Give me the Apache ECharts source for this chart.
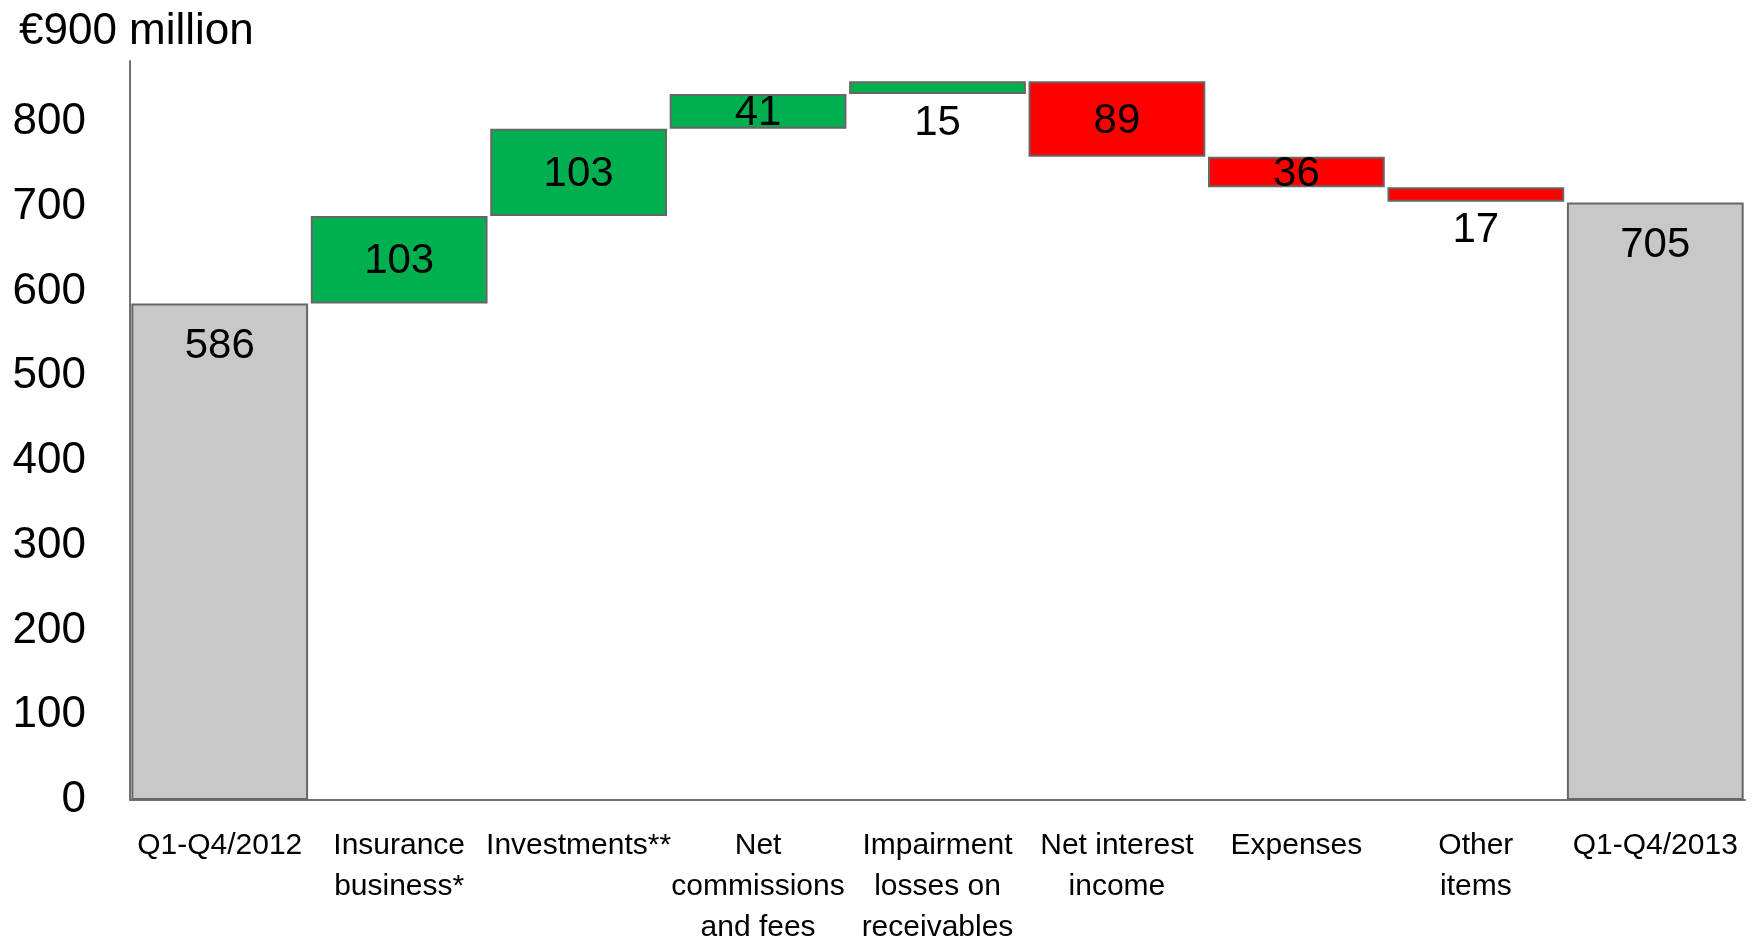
<!DOCTYPE html>
<html>
<head>
<meta charset="utf-8">
<title>Profit before taxes bridge</title>
<script src="https://cdn.jsdelivr.net/npm/echarts@6/dist/echarts.min.js"></script>
<style>
  html, body { margin: 0; padding: 0; background: #ffffff; }
  #chart { width: 1754px; height: 941px; }
</style>
</head>
<body>
<div id="chart"></div>
<script>
// Bridge steps from 2012 to 2013 (EUR million)
const categories = [
  'Q1-Q4/2012',
  'Insurance\nbusiness*',
  'Investments**',
  'Net\ncommissions\nand fees',
  'Impairment\nlosses on\nreceivables',
  'Net interest\nincome',
  'Expenses',
  'Other\nitems',
  'Q1-Q4/2013'
];
// First and last entries are totals, the rest are changes
const changes = [586, 103, 103, 41, 15, -89, -36, -17, 705];
const kinds = ['total', 'delta', 'delta', 'delta', 'delta', 'delta', 'delta', 'delta', 'total'];
// Labels that sit under their (thin) bar instead of inside it
const labelsBelow = ['Impairment\nlosses on\nreceivables', 'Other\nitems'];
const yTicks = [0, 100, 200, 300, 400, 500, 600, 700, 800];
const axisTitle = '€900 million';

const numFont = '"Liberation Sans", sans-serif';
const txtFont = '"Liberation Sans", sans-serif';

const colors = { total: '#c8c8c8', up: '#00b050', down: '#ff0000' };

// Running totals -> invisible base + visible bar height
const baseData = [];
const barData = [];
let running = 0;
changes.forEach((v, i) => {
  let base, height, color;
  if (kinds[i] === 'total') {
    base = 0; height = v; color = colors.total; running = v;
  } else if (v >= 0) {
    base = running; height = v; color = colors.up; running += v;
  } else {
    running += v; base = running; height = -v; color = colors.down;
  }
  baseData.push(base);
  let label;
  if (kinds[i] === 'total') {
    label = { position: 'insideTop', distance: 22 };
  } else if (labelsBelow.indexOf(categories[i]) >= 0) {
    label = { position: 'bottom', distance: 8 };
  } else {
    label = { position: 'inside', offset: [0, 2] };
  }
  barData.push({ value: height, itemStyle: { color: color }, label: label });
});

const chart = echarts.init(document.getElementById('chart'), null, { renderer: 'canvas' });
chart.setOption({
  animation: false,
  backgroundColor: '#ffffff',
  title: {
    text: axisTitle,
    left: 14,
    top: 5,
    textStyle: { fontFamily: txtFont, fontSize: 44, fontWeight: 'normal', color: '#000' }
  },
  grid: { left: 130, right: 9, top: 61, bottom: 141, containLabel: false, outerBoundsMode: 'none' },
  xAxis: {
    type: 'category',
    data: categories,
    axisTick: { show: false },
    axisLine: { show: true, lineStyle: { color: '#707070', width: 2 } },
    axisLabel: {
      interval: 0,
      fontFamily: txtFont,
      fontSize: 30,
      lineHeight: 41,
      color: '#000',
      margin: 25
    }
  },
  yAxis: {
    type: 'value',
    min: 0,
    max: 872,
    interval: 100,
    splitLine: { show: false },
    axisTick: { show: false },
    axisLine: { show: true, lineStyle: { color: '#707070', width: 2 } },
    axisLabel: {
      showMaxLabel: false,
      fontFamily: numFont,
      fontSize: 44,
      color: '#000',
      margin: 44,
      formatter: v => (yTicks.indexOf(v) >= 0 ? String(v) : '')
    }
  },
  series: [
    {
      type: 'bar',
      stack: 'bridge',
      data: baseData,
      itemStyle: { color: 'transparent' },
      barCategoryGap: '1.5%',
      silent: true
    },
    {
      type: 'bar',
      stack: 'bridge',
      data: barData,
      barCategoryGap: '1.5%',
      silent: true,
      itemStyle: { borderColor: '#666666', borderWidth: 2 },
      label: {
        show: true,
        fontFamily: numFont,
        fontSize: 42,
        color: '#000',
        formatter: '{c}'
      }
    }
  ]
});
</script>
</body>
</html>
